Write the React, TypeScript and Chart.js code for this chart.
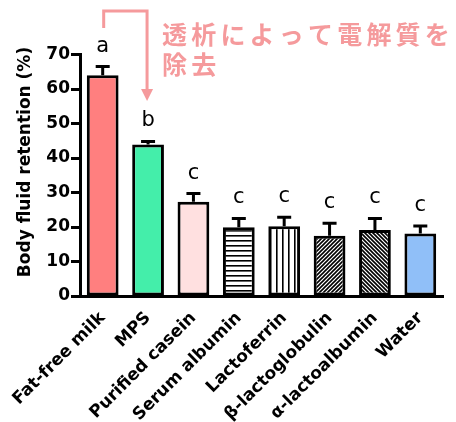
import React, { useEffect, useRef } from "react";
import { Chart, registerables } from "chart.js";

Chart.register(...registerables);

const categories = [
  "Fat-free milk",
  "MPS",
  "Purified casein",
  "Serum albumin",
  "Lactoferrin",
  "β-lactoglobulin",
  "α-lactoalbumin",
  "Water",
];
const retention = [64.0, 43.9, 27.3, 19.9, 20.2, 17.5, 19.1, 18.1];
const errors = [2.5, 0.9, 2.4, 2.6, 2.6, 3.6, 3.4, 2.2];
const letters = ["a", "b", "c", "c", "c", "c", "c", "c"];
const yTicks = [0, 10, 20, 30, 40, 50, 60, 70];
const yTitle = "Body fluid retention (%)";
const noteLines = ["透析によって電解質を", "除去"];

const PINK = "#f59a9c";

function makePattern(kind: string): CanvasPattern | string {
  const c = document.createElement("canvas");
  const size = kind === "h" ? 5 : kind === "v" ? 6 : 4;
  c.width = size;
  c.height = size;
  const g = c.getContext("2d")!;
  g.fillStyle = "#ffffff";
  g.fillRect(0, 0, size, size);
  g.fillStyle = "#000000";
  g.strokeStyle = "#000000";
  if (kind === "h") {
    g.fillRect(0, 0, size, 1.6);
  } else if (kind === "v") {
    g.fillRect(0, 0, 1.6, size);
  } else {
    g.lineWidth = 1.6;
    g.beginPath();
    if (kind === "d1") {
      g.moveTo(-1, size + 1);
      g.lineTo(size + 1, -1);
      g.moveTo(-1, 1);
      g.lineTo(1, -1);
      g.moveTo(size - 1, size + 1);
      g.lineTo(size + 1, size - 1);
    } else {
      g.moveTo(-1, -1);
      g.lineTo(size + 1, size + 1);
      g.moveTo(size - 1, -1);
      g.lineTo(size + 1, 1);
      g.moveTo(-1, size - 1);
      g.lineTo(1, size + 1);
    }
    g.stroke();
  }
  const ctx = document.createElement("canvas").getContext("2d")!;
  return ctx.createPattern(c, "repeat") || "#fff";
}

export default function App() {
  const ref = useRef<HTMLCanvasElement | null>(null);

  useEffect(() => {
    if (!ref.current) return;
    const fills: (string | CanvasPattern)[] = [
      "#ff7f7f",
      "#44eeaa",
      "#ffe0e0",
      makePattern("h"),
      makePattern("v"),
      makePattern("d1"),
      makePattern("d2"),
      "#90bff8",
    ];

    const extras = {
      id: "extras",
      afterDatasetsDraw(chart: any) {
        const ctx = chart.ctx;
        const y = chart.scales.y;
        const meta = chart.getDatasetMeta(0);
        ctx.save();
        ctx.strokeStyle = "#000";
        ctx.lineWidth = 3;
        ctx.fillStyle = "#000";
        ctx.font = "21px 'DejaVu Sans'";
        ctx.textAlign = "center";
        ctx.textBaseline = "alphabetic";
        meta.data.forEach((bar: any, i: number) => {
          const top = y.getPixelForValue(retention[i]);
          const cap = y.getPixelForValue(retention[i] + errors[i]);
          ctx.beginPath();
          ctx.moveTo(bar.x, top);
          ctx.lineTo(bar.x, cap);
          ctx.moveTo(bar.x - 7, cap);
          ctx.lineTo(bar.x + 7, cap);
          ctx.stroke();
          ctx.fillText(letters[i], bar.x, cap - 15);
        });
        ctx.restore();
      },
      afterDraw(chart: any) {
        const ctx = chart.ctx;
        ctx.save();
        ctx.translate(26, 162);
        ctx.rotate(-Math.PI / 2);
        ctx.font = "bold 17px 'DejaVu Sans'";
        ctx.fillStyle = "#000";
        ctx.textAlign = "center";
        ctx.textBaseline = "middle";
        ctx.fillText(yTitle, 0, 0);
        ctx.restore();

        const meta = chart.getDatasetMeta(0);
        const x0 = meta.data[0].x;
        const x1 = meta.data[1].x - 1;
        ctx.save();
        ctx.strokeStyle = PINK;
        ctx.fillStyle = PINK;
        ctx.lineWidth = 3;
        ctx.beginPath();
        ctx.moveTo(x0 + 1, 28);
        ctx.lineTo(x0 + 1, 11);
        ctx.lineTo(x1, 11);
        ctx.lineTo(x1, 92);
        ctx.stroke();
        ctx.beginPath();
        ctx.moveTo(x1 - 6, 89);
        ctx.lineTo(x1 + 6, 89);
        ctx.lineTo(x1, 101);
        ctx.closePath();
        ctx.fill();

        ctx.font = "bold 25px 'Noto Sans CJK JP'";
        (ctx as any).letterSpacing = "4.2px";
        ctx.textAlign = "left";
        ctx.textBaseline = "middle";
        ctx.fillText(noteLines[0], 162, 34);
        ctx.fillText(noteLines[1], 162, 64);
        ctx.restore();
      },
    };

    const chart = new Chart(ref.current, {
      type: "bar",
      data: {
        labels: categories,
        datasets: [
          {
            data: retention,
            backgroundColor: fills as any,
            borderColor: "#000",
            borderWidth: 3,
            borderSkipped: false,
            barPercentage: 0.7,
            categoryPercentage: 1.0,
          },
        ],
      },
      options: {
        responsive: false,
        animation: false,
        devicePixelRatio: 1,
        layout: { padding: { top: 54.5, right: 13, left: 0, bottom: 0 } },
        plugins: {
          legend: { display: false },
          tooltip: { enabled: false },
          title: { display: false },
        },
        scales: {
          x: {
            grid: { display: false },
            border: { display: true, color: "#000", width: 3 },
            ticks: {
              color: "#000",
              font: { family: "'DejaVu Sans'", size: 17, weight: "bold" },
              minRotation: 45,
              maxRotation: 45,
              autoSkip: false,
              padding: 4,
            },
            afterFit: (s: any) => {
              s.height = 126;
            },
          },
          y: {
            min: 0,
            max: 70,
            afterBuildTicks: (s: any) => {
              s.ticks = yTicks.map((v) => ({ value: v }));
            },
            grid: {
              drawOnChartArea: false,
              drawTicks: true,
              tickLength: 9,
              tickWidth: 3,
              color: "#000",
            },
            border: { display: true, color: "#000", width: 3 },
            ticks: {
              color: "#000",
              font: { family: "'DejaVu Sans'", size: 17, weight: "bold" },
              padding: 1,
            },
            afterFit: (s: any) => {
              s.width = 80;
            },
          },
        },
      },
      plugins: [extras],
    });
    return () => chart.destroy();
  }, []);

  return (
    <div style={{ position: "absolute", left: 0, top: 0, width: 456, height: 422 }}>
      <canvas ref={ref} width={456} height={422} style={{ display: "block" }} />
    </div>
  );
}
